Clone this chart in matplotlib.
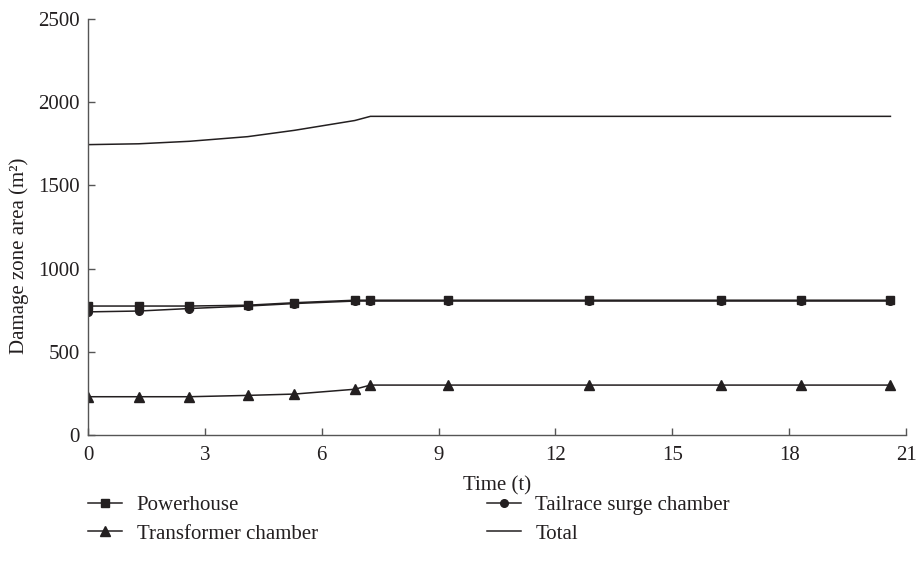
import numpy as np
from matplotlib import pyplot as plt

# time steps (t) and damage zone areas (m^2) of each cavern
time = [0, 1.3, 2.6, 4.1, 5.3, 6.85, 7.25, 9.25, 12.85, 16.25, 18.3, 20.6]
powerhouse = [775, 775, 775, 780, 795, 810, 810, 810, 810, 810, 810, 810]
tailrace = [740, 745, 760, 775, 790, 805, 805, 805, 805, 805, 805, 805]
transformer = [230, 230, 230, 238, 246, 275, 300, 300, 300, 300, 300, 300]
total = list(np.array(powerhouse) + np.array(tailrace) + np.array(transformer))

x_ticks = [0, 3, 6, 9, 12, 15, 18, 21]
y_ticks = [0, 500, 1000, 1500, 2000, 2500]

plt.rcParams['font.family'] = ['Liberation Serif', 'DejaVu Serif']
fs = 15
ink = '#231f20'

fig = plt.figure(figsize=(9.21, 5.65), dpi=100)
ax = fig.add_axes([88/921, 1 - 435/565, (906 - 88)/921, (435 - 19)/565])

l1, = ax.plot(time, powerhouse, color=ink, lw=1.1, marker='s', ms=5.5, label='Powerhouse')
l2, = ax.plot(time, tailrace, color=ink, lw=1.1, marker='o', ms=5.5, label='Tailrace surge chamber')
l3, = ax.plot(time, transformer, color=ink, lw=1.1, marker='^', ms=6.5, label='Transformer chamber')
l4, = ax.plot(time, total, color=ink, lw=1.1, label='Total')

ax.set_xlim(0, 21)
ax.set_ylim(0, 2500)
ax.set_xticks(x_ticks)
ax.set_yticks(y_ticks)
ax.spines['top'].set_visible(False)
ax.spines['right'].set_visible(False)
for s in ('left', 'bottom'):
    ax.spines[s].set_color('#555555')
    ax.spines[s].set_linewidth(1.0)
ax.tick_params(direction='in', length=5, width=1.0, color='#555555',
               labelsize=fs, labelcolor=ink)
ax.tick_params(axis='y', pad=6)
ax.tick_params(axis='x', pad=8)

ax.set_xlabel('Time (t)', fontsize=fs, color=ink, labelpad=8)
ax.set_ylabel('Damage zone area (m²)', fontsize=fs, color=ink)
ax.yaxis.set_label_coords(-0.072, 0.43)

fig.legend(handles=[l1, l3, l2, l4], loc='upper left', ncol=2,
           bbox_to_anchor=(71/921, 1 - 479/565), frameon=False,
           fontsize=fs, handlelength=1.65, handletextpad=0.7,
           columnspacing=8.1, labelspacing=0.42, labelcolor=ink,
           borderpad=0.3)

fig.savefig('out.png', dpi=100)
